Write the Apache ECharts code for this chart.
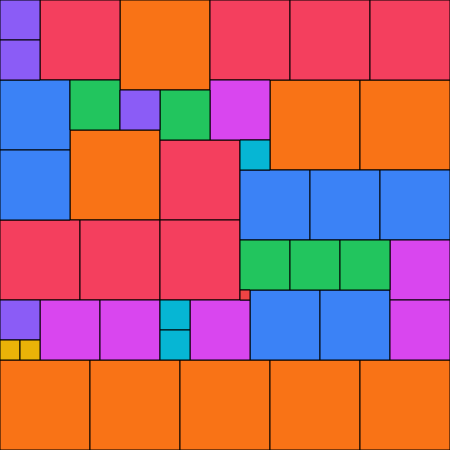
<!DOCTYPE html>
<html>
<head>
<meta charset="utf-8">
<script src="https://cdn.jsdelivr.net/npm/echarts@6/dist/echarts.min.js"></script>
<style>html,body{margin:0;padding:0;background:#fff}#main{width:450px;height:450px}</style>
</head>
<body>
<div id="main"></div>
<script>
// Partridge tiling: squares of side k appear k times (positions in units, top-left corner)
var side9 = [[12,0],[27,8],[36,8],[7,13],[0,36],[9,36],[18,36],[27,36],[36,36]];
var side8 = [[4,0],[21,0],[29,0],[37,0],[16,14],[0,22],[8,22],[16,22]];
var side7 = [[0,8],[0,15],[24,17],[31,17],[38,17],[25,29],[32,29]];
var side6 = [[21,8],[39,24],[4,30],[10,30],[19,30],[39,30]];
var side5 = [[7,8],[16,9],[24,24],[29,24],[34,24]];
var side4 = [[0,0],[0,4],[12,9],[0,30]];
var side3 = [[24,14],[16,30],[16,33]];
var side2 = [[0,34],[2,34]];
var side1 = [[24,29]];

var groups = [
  {size: 9, pos: side9, color: '#f97316'},
  {size: 8, pos: side8, color: '#f43f5e'},
  {size: 7, pos: side7, color: '#3b82f6'},
  {size: 6, pos: side6, color: '#d946ef'},
  {size: 5, pos: side5, color: '#22c55e'},
  {size: 4, pos: side4, color: '#8b5cf6'},
  {size: 3, pos: side3, color: '#06b6d4'},
  {size: 2, pos: side2, color: '#eab308'},
  {size: 1, pos: side1, color: '#ef4444'}
];

var data = [];
groups.forEach(function (g) {
  g.pos.forEach(function (p) {
    data.push({value: [p[0], p[1], g.size], itemStyle: {color: g.color}});
  });
});

var chart = echarts.init(document.getElementById('main'));
chart.setOption({
  animation: false,
  grid: {left: 0, right: 0, top: 0, bottom: 0},
  xAxis: {type: 'value', min: 0, max: 45, show: false},
  yAxis: {type: 'value', min: 0, max: 45, inverse: true, show: false},
  series: [{
    type: 'custom',
    data: data,
    renderItem: function (params, api) {
      var x = api.value(0), y = api.value(1), s = api.value(2);
      var a = api.coord([x, y]);
      var b = api.coord([x + s, y + s]);
      return {
        type: 'rect',
        shape: {x: a[0], y: a[1], width: b[0] - a[0], height: b[1] - a[1]},
        style: {fill: api.visual('color'), stroke: '#000', lineWidth: 1}
      };
    }
  }]
});
</script>
</body>
</html>
